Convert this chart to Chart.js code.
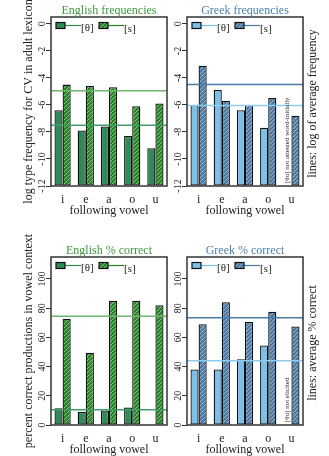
<!DOCTYPE html>
<html>
<head>
<meta charset="utf-8">
<script src="https://cdn.jsdelivr.net/npm/chart.js@4.4.0/dist/chart.umd.min.js"></script>
<style>
  body { margin: 0; background: #fff; }
  #wrap { position: relative; width: 329px; height: 456px; overflow: hidden; }
  canvas { position: absolute; }
</style>
</head>
<body>
<div id="wrap">
  <canvas id="engFreq" width="170" height="217" style="left:0px;top:0px"></canvas>
  <canvas id="grkFreq" width="159" height="217" style="left:170px;top:0px"></canvas>
  <canvas id="engCorr" width="170" height="228" style="left:0px;top:228px"></canvas>
  <canvas id="grkCorr" width="159" height="228" style="left:170px;top:228px"></canvas>
</div>
<script>
// data
const vowels = ['i', 'e', 'a', 'o', 'u'];
const freqTicks = [-12, -10, -8, -6, -4, -2, 0];
const pctTicks = [0, 20, 40, 60, 80, 100];

const engFreqTh = [-6.4, -7.9, -7.6, -8.3, -9.2];
const engFreqS = [-4.5, -4.6, -4.7, -6.1, -5.9];
const engFreqAvg = [-7.5, -4.95];   // [θ], [s]

const grkFreqTh = [-6.0, -4.9, -6.4, -7.7, null];
const grkFreqS = [-3.1, -5.7, -6.0, -5.5, -6.8];
const grkFreqAvg = [-6.05, -4.5];

const engCorrTh = [11.5, 9, 10, 12, 0];
const engCorrS = [72.5, 49.5, 85, 85, 82];
const engCorrAvg = [10.5, 74.5];

const grkCorrTh = [38, 38, 45, 54.5, null];
const grkCorrS = [69, 84, 70.5, 77.5, 67.5];
const grkCorrAvg = [44, 73.5];

Chart.defaults.font.family = '"Liberation Serif", "Times New Roman", serif';
Chart.defaults.color = '#222';

const green = { th: '#2e8b57', s: '#268326', stripe: '#84c884', title: '#3d9a3d', lines: ['#3f9e68', '#6cb86c'] };
const blue = { th: '#7bbfea', s: '#4a78a3', stripe: '#9cb9d6', title: '#4d80b0', lines: ['#8ecbf0', '#4a7ca8'] };

function hatch(canvas, base, stripe) {
  let tile = document.createElement('canvas');
  tile.width = 4;
  tile.height = 4;
  let g = tile.getContext('2d');
  g.fillStyle = base;
  g.fillRect(0, 0, 4, 4);
  g.strokeStyle = stripe;
  g.lineWidth = 1;
  g.beginPath();
  g.moveTo(0, 4); g.lineTo(4, 0);
  g.moveTo(-1, 1); g.lineTo(1, -1);
  g.moveTo(3, 5); g.lineTo(5, 3);
  g.stroke();
  return canvas.getContext('2d').createPattern(tile, 'repeat');
}

// box, average lines, title, legend, notes, side label
const panelDecor = {
  id: 'panelDecor',
  afterDatasetsDraw(chart, args, o) {
    const ctx = chart.ctx;
    const a = chart.chartArea;
    const y = chart.scales.y;
    ctx.save();

    o.avg.forEach((v, i) => {
      let py = y.getPixelForValue(v);
      ctx.strokeStyle = o.colors.lines[i];
      ctx.lineWidth = 1.5;
      ctx.beginPath();
      ctx.moveTo(a.left, py);
      ctx.lineTo(a.right, py);
      ctx.stroke();
    });

    if (o.note) {
      let bar = chart.getDatasetMeta(0).data[4];
      let nx = bar.x;
      if (!isFinite(nx)) nx = chart.scales.x.getPixelForValue(4) - 4;
      ctx.save();
      ctx.translate(nx, a.bottom - 3);
      ctx.rotate(-Math.PI / 2);
      ctx.font = '7px "Liberation Serif"';
      ctx.fillStyle = '#222';
      ctx.textAlign = 'left';
      ctx.textBaseline = 'middle';
      ctx.fillText(o.note, 0, 0);
      ctx.restore();
    }

    ctx.strokeStyle = '#333';
    ctx.lineWidth = 1.5;
    ctx.strokeRect(a.left, a.top, a.right - a.left, a.bottom - a.top);

    // title
    ctx.font = '12px "Liberation Serif"';
    ctx.fillStyle = o.colors.title;
    ctx.textAlign = 'center';
    ctx.textBaseline = 'middle';
    ctx.fillText(o.title, (a.left + a.right) / 2, a.top - 6);

    // legend
    const sets = chart.data.datasets;
    const items = [
      { x: 5, text: '[θ]', fill: sets[0].backgroundColor, line: o.colors.th, ty: 13.5 },
      { x: 48, text: '[s]', fill: sets[1].backgroundColor, line: o.colors.s, ty: 15 }
    ];
    items.forEach(it => {
      let lx = a.left + it.x;
      let ly = a.top + 5.5;
      ctx.strokeStyle = it.line;
      ctx.lineWidth = 1.2;
      ctx.beginPath();
      ctx.moveTo(lx + 9, ly + 3);
      ctx.lineTo(lx + 25, ly + 3);
      ctx.stroke();
      ctx.fillStyle = it.fill;
      ctx.fillRect(lx, ly, 9, 6);
      ctx.strokeStyle = '#111';
      ctx.lineWidth = 1.2;
      ctx.strokeRect(lx, ly, 9, 6);
      ctx.font = '11px "Liberation Serif"';
      ctx.fillStyle = '#222';
      ctx.textAlign = 'left';
      ctx.textBaseline = 'alphabetic';
      ctx.fillText(it.text, lx + 25, a.top + it.ty);
    });

    // right-hand label
    if (o.side) {
      ctx.save();
      ctx.translate(o.sideX, (a.top + a.bottom) / 2 + 2);
      ctx.rotate(-Math.PI / 2);
      ctx.font = '12px "Liberation Serif"';
      ctx.fillStyle = '#222';
      ctx.textAlign = 'center';
      ctx.textBaseline = 'middle';
      ctx.fillText(o.side, 0, 0);
      ctx.restore();
    }
    ctx.restore();
  }
};

function makePanel(id, cfg) {
  let canvas = document.getElementById(id);
  return new Chart(canvas, {
    type: 'bar',
    data: {
      labels: vowels,
      datasets: [
        { label: '[θ]', data: cfg.th, base: cfg.min, backgroundColor: cfg.colors.th,
          borderColor: '#111', borderWidth: 1.3, borderSkipped: false },
        { label: '[s]', data: cfg.s, base: cfg.min, backgroundColor: hatch(canvas, cfg.colors.s, cfg.colors.stripe),
          borderColor: '#111', borderWidth: 1.3, borderSkipped: false }
      ]
    },
    options: {
      responsive: false,
      animation: false,
      layout: { padding: { top: cfg.top, right: cfg.right, left: 0, bottom: 0 } },
      datasets: { bar: { categoryPercentage: 0.7, barPercentage: 1 } },
      plugins: {
        legend: { display: false },
        tooltip: { enabled: false },
        panelDecor: { title: cfg.title, avg: cfg.avg, colors: cfg.colors, note: cfg.note, side: cfg.side, sideX: cfg.sideX }
      },
      scales: {
        x: {
          afterFit: s => { s.height = 31; },
          grid: { display: false, drawTicks: false },
          border: { display: false },
          ticks: { font: { size: 12 }, padding: 7, maxRotation: 0 },
          title: { display: true, text: 'following vowel', font: { size: 12 }, padding: { top: 0, bottom: -1.5 } }
        },
        y: {
          min: cfg.min,
          max: cfg.max,
          afterBuildTicks: s => { s.ticks = cfg.ticks.map(v => ({ value: v })); },
          afterFit: s => { s.width = cfg.yWidth; },
          grid: { drawOnChartArea: false, drawTicks: true, tickLength: 5, color: '#333' },
          border: { display: false },
          ticks: { minRotation: 90, maxRotation: 90, crossAlign: 'center', padding: cfg.tickPad, font: { size: 10 } },
          title: { display: !!cfg.yTitle, text: cfg.yTitle || '', font: { size: 12 }, padding: { top: 22, bottom: 0 } }
        }
      }
    },
    plugins: [panelDecor]
  });
}

makePanel('engFreq', {
  th: engFreqTh, s: engFreqS, avg: engFreqAvg, colors: green, title: 'English frequencies',
  min: -12, max: 0.5, ticks: freqTicks, top: 17, right: 3, yWidth: 51, tickPad: -3.2,
  yTitle: 'log type frequency for CV in adult lexicon'
});
makePanel('grkFreq', {
  th: grkFreqTh, s: grkFreqS, avg: grkFreqAvg, colors: blue, title: 'Greek frequencies',
  min: -12, max: 0.5, ticks: freqTicks, top: 17, right: 26, yWidth: 17, tickPad: -3.2,
  note: '[θu] not attested word-initially', side: 'lines: log of average frequency', sideX: 143
});
makePanel('engCorr', {
  th: engCorrTh, s: engCorrS, avg: engCorrAvg, colors: green, title: 'English % correct',
  min: 0, max: 115, ticks: pctTicks, top: 29, right: 3, yWidth: 51, tickPad: -4,
  yTitle: 'percent correct productions in vowel context'
});
makePanel('grkCorr', {
  th: grkCorrTh, s: grkCorrS, avg: grkCorrAvg, colors: blue, title: 'Greek % correct',
  min: 0, max: 115, ticks: pctTicks, top: 29, right: 26, yWidth: 17, tickPad: -4,
  note: '[θu] not elicited', side: 'lines: average % correct', sideX: 143
});
</script>
</body>
</html>
